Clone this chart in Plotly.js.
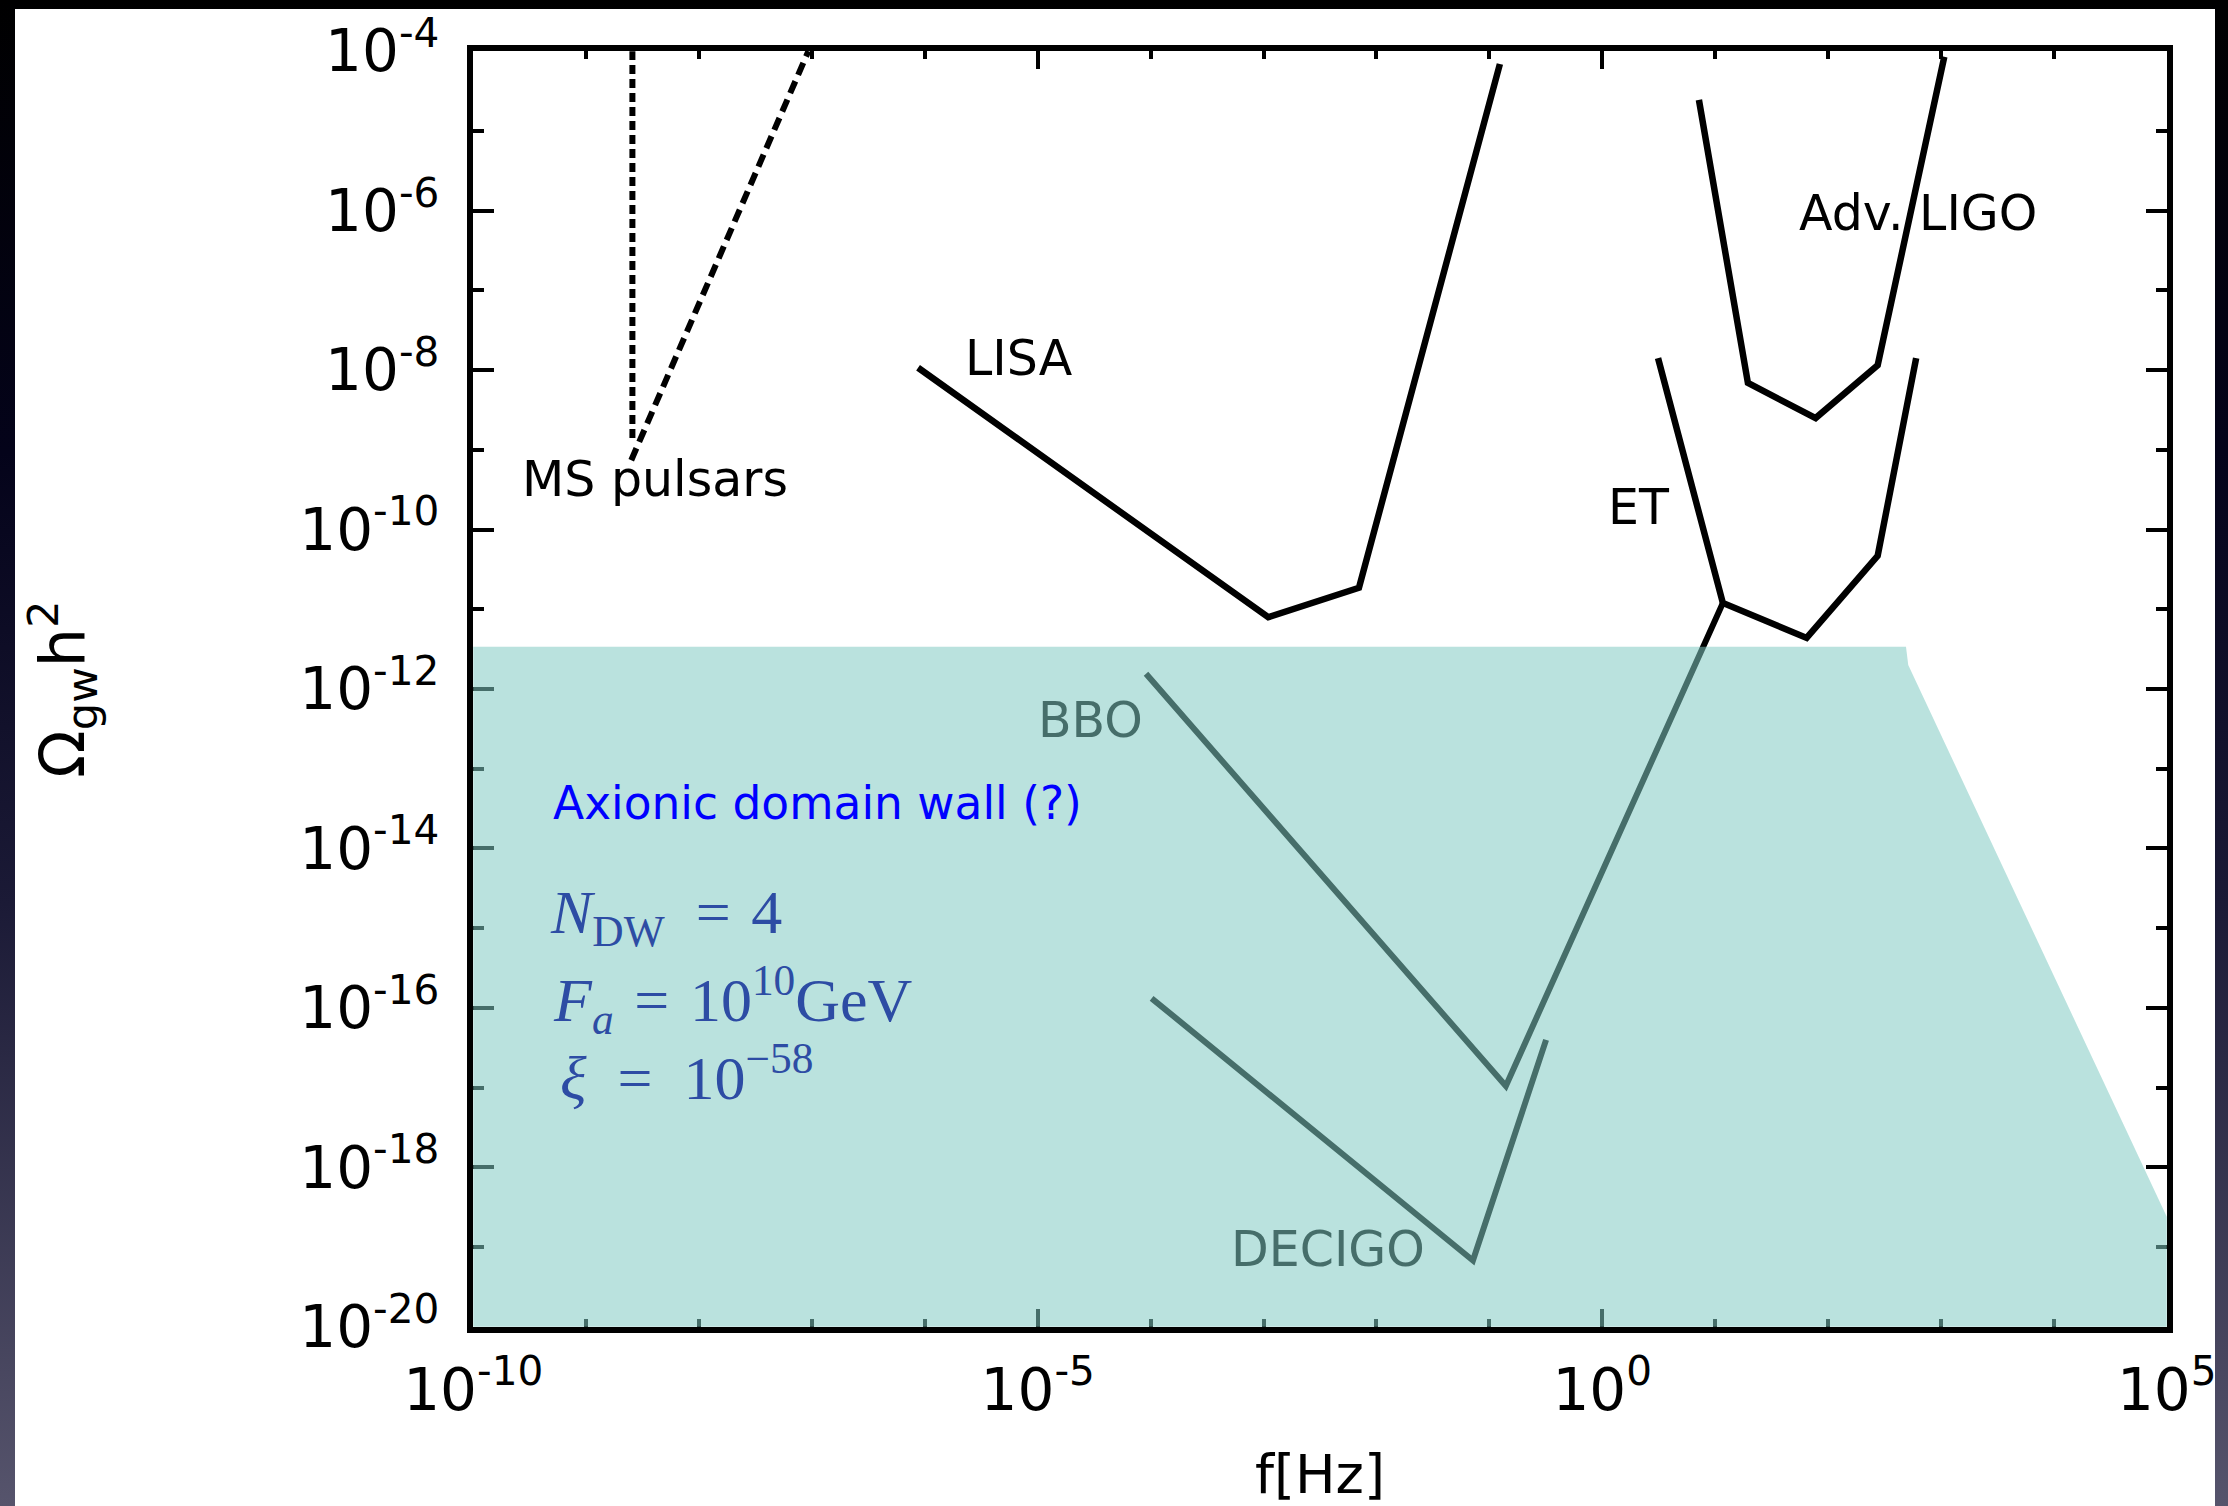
<!DOCTYPE html>
<html>
<head>
<meta charset="utf-8">
<script src="https://cdn.plot.ly/plotly-3.0.1.min.js"></script>
<style>
html, body { margin:0; padding:0; width:2228px; height:1506px; overflow:hidden;
  background: linear-gradient(to bottom, #000000 0%, #04031a 30%, #1b1a36 60%, #56546c 100%); }
#chart { position:absolute; left:15px; top:9px; width:2200px; height:1497px; background:#ffffff; overflow:hidden; }
</style>
</head>
<body>
<div id="chart"></div>
<script>
// ---------- data ----------
const msPulsarVertF   = [2.57e-9, 2.57e-9];
const msPulsarVertOmg = [1.41e-9, 1.0e-4];
const msPulsarDiagF   = [2.51e-9, 9.3e-8];
const msPulsarDiagOmg = [7.4e-10, 1.0e-4];

const lisaF   = [8.71e-7, 1.10e-3, 7.0e-3, 0.124];
const lisaOmg = [1.07e-8, 7.94e-12, 1.86e-11, 6.9e-5];

const ligoF   = [7.18, 19.5, 77.6, 275, 1070];
const ligoOmg = [2.45e-5, 6.9e-9, 2.5e-9, 1.15e-8, 8.5e-5];

const etF   = [3.12, 11.7, 64.6, 275, 603];
const etOmg = [1.41e-8, 1.20e-11, 4.37e-12, 4.68e-11, 1.41e-8];

const bboF   = [9.1e-5, 0.140, 11.7];
const bboOmg = [1.55e-12, 1.05e-17, 1.20e-11];

const decigoF   = [1.02e-4, 0.0716, 0.318];
const decigoOmg = [1.32e-16, 6.8e-20, 3.98e-17];

const wallF   = [1e-10, 490, 513, 1e5, 1e5, 1e-10];
const wallOmg = [3.4e-12, 3.4e-12, 2.0e-12, 2.4e-19, 1e-20, 1e-20];

const xTickVals = [1e-10, 1e-5, 1, 1e5];
const xTickText = ['10<sup>-10</sup>', '10<sup>-5</sup>', '10<sup>0</sup>', '10<sup>5</sup>'];
const yTickVals = [1e-20, 1e-18, 1e-16, 1e-14, 1e-12, 1e-10, 1e-8, 1e-6, 1e-4];
const yTickText = ['10<sup>-20</sup>', '10<sup>-18</sup>', '10<sup>-16</sup>', '10<sup>-14</sup>',
                   '10<sup>-12</sup>', '10<sup>-10</sup>', '10<sup>-8</sup>', '10<sup>-6</sup>', '10<sup>-4</sup>'];

// ---------- traces ----------
const lineW = 6.5;
const traces = [
  {x: msPulsarVertF, y: msPulsarVertOmg, mode:'lines', line:{color:'#000', width:6, dash:'9px,5px'}, hoverinfo:'skip'},
  {x: msPulsarDiagF, y: msPulsarDiagOmg, mode:'lines', line:{color:'#000', width:6, dash:'13px,7px'}, hoverinfo:'skip'},
  {x: lisaF, y: lisaOmg, mode:'lines', line:{color:'#000', width:lineW}, hoverinfo:'skip'},
  {x: ligoF, y: ligoOmg, mode:'lines', line:{color:'#000', width:lineW}, hoverinfo:'skip'},
  {x: etF, y: etOmg, mode:'lines', line:{color:'#000', width:lineW}, hoverinfo:'skip'},
  {x: bboF, y: bboOmg, mode:'lines', line:{color:'#000', width:6}, hoverinfo:'skip'},
  {x: decigoF, y: decigoOmg, mode:'lines', line:{color:'#000', width:6}, hoverinfo:'skip'},
  // translucent domain-wall region drawn on top of the curves
  {x: wallF, y: wallOmg, mode:'lines', fill:'toself', fillcolor:'rgba(128,202,194,0.545)',
   line:{width:0, color:'rgba(0,0,0,0)'}, hoverinfo:'skip'}
];

const tickFont = {family:'DejaVu Sans', size:58, color:'#000'};
const lblFont = {family:'DejaVu Sans', size:49, color:'#000'};
const mathFont = {family:'Liberation Serif', size:62, color:'#2d4ca4'};
const EN = '\u2002', TPM = '\u2004';

const layout = {
  width:2200, height:1497,
  margin:{l:458, r:48, t:42, b:179},
  paper_bgcolor:'#ffffff', plot_bgcolor:'#ffffff',
  showlegend:false,
  xaxis:{
    type:'log', range:[-10.002, 5.002], showgrid:false, zeroline:false,
    showline:true, linecolor:'#000', linewidth:6, mirror:'ticks',
    ticks:'inside', ticklen:18, tickwidth:4, tickcolor:'#000',
    tickmode:'array', tickvals:xTickVals, ticktext:xTickText,
    minor:{dtick:1, ticks:'inside', ticklen:8, tickwidth:4, tickcolor:'#000', showgrid:false},
    tickfont:tickFont, ticklabelstandoff:7, ticklabeloverflow:'allow',
    layer:'below traces',
    title:{text:'f[Hz]', font:{family:'DejaVu Sans', size:54, color:'#000'}, standoff:36}
  },
  yaxis:{
    type:'log', range:[-20.002, -3.998], showgrid:false, zeroline:false,
    showline:true, linecolor:'#000', linewidth:6, mirror:'ticks',
    ticks:'inside', ticklen:21, tickwidth:4, tickcolor:'#000',
    tickmode:'array', tickvals:yTickVals, ticktext:yTickText,
    minor:{dtick:1, ticks:'inside', ticklen:11, tickwidth:4, tickcolor:'#000', showgrid:false},
    tickfont:tickFont, ticklabelstandoff:16, ticklabeloverflow:'allow',
    layer:'below traces',
    title:{text:'Ω<sub>gw</sub>h<sup>2</sup>', font:{family:'DejaVu Sans', size:62, color:'#000'}, standoff:197}
  },
  annotations:[
    {x:-9.584, y:-9.37, xref:'x', yref:'y', text:'MS pulsars', showarrow:false, xanchor:'left', yanchor:'middle', font:lblFont},
    {x:-5.661, y:-7.86, xref:'x', yref:'y', text:'LISA', showarrow:false, xanchor:'left', yanchor:'middle', font:lblFont},
    {x:1.724, y:-6.03, xref:'x', yref:'y', text:'Adv. LIGO', showarrow:false, xanchor:'left', yanchor:'middle', font:lblFont},
    {x:0.033, y:-9.72, xref:'x', yref:'y', text:'ET', showarrow:false, xanchor:'left', yanchor:'middle', font:lblFont},
    {x:-5.015, y:-12.39, xref:'x', yref:'y', text:'BBO', showarrow:false, xanchor:'left', yanchor:'middle', font:{family:'DejaVu Sans', size:49, color:'#466e6a'}},
    {x:-3.309, y:-19.03, xref:'x', yref:'y', text:'DECIGO', showarrow:false, xanchor:'left', yanchor:'middle', font:{family:'DejaVu Sans', size:49, color:'#466e6a'}},
    {x:-9.314, y:-13.44, xref:'x', yref:'y', text:'Axionic domain wall (?)', showarrow:false, xanchor:'left', yanchor:'middle', font:{family:'DejaVu Sans', size:45.5, color:'#0000ff'}},
    {x:-9.336, y:-14.85, xref:'x', yref:'y', text:'<i>N</i><sub>DW</sub>' + EN + '=' + TPM + '4', showarrow:false, xanchor:'left', yanchor:'middle', font:mathFont},
    {x:-9.314, y:-15.90, xref:'x', yref:'y', text:'<i>F<sub>a</sub></i>' + TPM + '=' + TPM + '10<sup>10</sup>GeV', showarrow:false, xanchor:'left', yanchor:'middle', font:mathFont},
    {x:-9.247, y:-16.82, xref:'x', yref:'y', text:'<i>ξ</i>' + EN + '=' + EN + '10<sup>−58</sup>', showarrow:false, xanchor:'left', yanchor:'middle', font:mathFont}
  ]
};

Plotly.newPlot('chart', traces, layout, {staticPlot:true, displayModeBar:false});
</script>
</body>
</html>
